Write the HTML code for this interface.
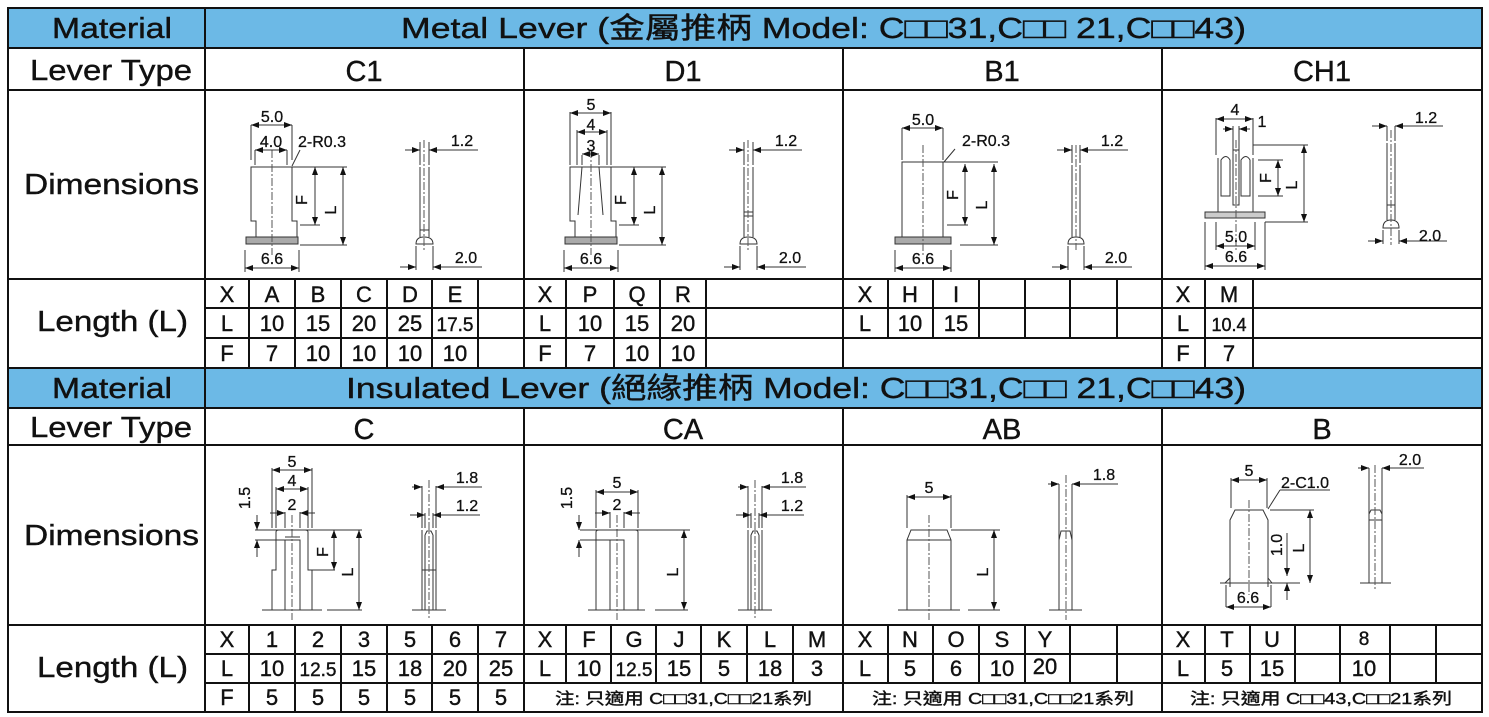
<!DOCTYPE html>
<html><head><meta charset="utf-8"><style>
html,body{margin:0;padding:0;background:#fff;}
svg{display:block;}
text{font-family:"Liberation Sans","Noto Sans CJK TC",sans-serif;fill:#111;stroke:#111;stroke-width:0.4;}
.h{font-size:29px;}
.c{font-size:22px;text-anchor:middle;}
.t{font-size:16px;text-anchor:middle;stroke-width:0.3;}
.n{font-size:16px;stroke-width:0.2;}
.g{stroke:#111;stroke-width:2;fill:none;}
.d{stroke:#333;stroke-width:1;fill:none;}
.cl{stroke:#555;stroke-width:1;stroke-dasharray:8,2,2,2;fill:none;}
</style></head><body>
<svg width="1489" height="717" viewBox="0 0 1489 717" xmlns="http://www.w3.org/2000/svg">
<defs>
<marker id="a" markerWidth="8" markerHeight="6" refX="8" refY="3" orient="auto"><path d="M0,0L8,3L0,6z" fill="#111"/></marker>
<marker id="b" markerWidth="8" markerHeight="6" refX="0" refY="3" orient="auto"><path d="M8,0L0,3L8,6z" fill="#111"/></marker>
</defs>
<rect x="0" y="0" width="1489" height="717" fill="#fff"/>
<rect x="8" y="8" width="1474" height="40" fill="#6cb9e6"/>
<rect x="8" y="368" width="1474" height="40" fill="#6cb9e6"/>
<rect x="8" y="8" width="1474" height="704" class="g"/>
<g class="g">
<line x1="8" y1="48" x2="1482" y2="48"/><line x1="8" y1="90" x2="1482" y2="90"/>
<line x1="8" y1="279" x2="1482" y2="279"/><line x1="8" y1="368" x2="1482" y2="368"/>
<line x1="8" y1="408" x2="1482" y2="408"/><line x1="8" y1="445" x2="1482" y2="445"/>
<line x1="8" y1="625" x2="1482" y2="625"/>
<line x1="205" y1="308" x2="1482" y2="308"/><line x1="205" y1="338" x2="1482" y2="338"/>
<line x1="205" y1="654" x2="1482" y2="654"/><line x1="205" y1="683" x2="1482" y2="683"/>
<line x1="205" y1="8" x2="205" y2="712"/>
<line x1="524" y1="48" x2="524" y2="368"/><line x1="843" y1="48" x2="843" y2="368"/><line x1="1162" y1="48" x2="1162" y2="368"/>
<line x1="524" y1="408" x2="524" y2="712"/><line x1="843" y1="408" x2="843" y2="712"/><line x1="1162" y1="408" x2="1162" y2="712"/>
</g>
<g class="g" stroke-width="1.5">
<path d="M249 279V368M295 279V368M341 279V368M387 279V368M432 279V368M478 279V368"/>
<path d="M566 279V368M614 279V368M660 279V368M706 279V368"/>
<path d="M888 279V338M933 279V338M979 279V338M1025 279V338M1070 279V338M1117 279V338"/>
<path d="M1205 279V368M1253 279V368"/>
<path d="M249 625V712M295 625V712M341 625V712M387 625V712M432 625V712M478 625V712"/>
<path d="M566 625V683M611 625V683M656 625V683M701 625V683M747 625V683M793 625V683"/>
<path d="M888 625V683M933 625V683M979 625V683M1025 625V683M1070 625V683M1117 625V683"/>
<path d="M1205 625V683M1250 625V683M1295 625V683M1340 625V683M1390 625V683M1436 625V683"/>
</g>
<text class="h" x="52" y="38" textLength="120" lengthAdjust="spacingAndGlyphs">Material</text>
<text class="h" x="401" y="38" textLength="845" lengthAdjust="spacingAndGlyphs">Metal Lever (金屬推柄 Model: C□□31,C□□ 21,C□□43)</text>
<text class="h" x="30" y="80" textLength="162" lengthAdjust="spacingAndGlyphs">Lever Type</text>
<text class="c" x="364" y="81" style="font-size:29px">C1</text>
<text class="c" x="683" y="81" style="font-size:29px">D1</text>
<text class="c" x="1002" y="81" style="font-size:29px">B1</text>
<text class="c" x="1322" y="81" style="font-size:29px">CH1</text>
<text class="h" x="24" y="194" textLength="175" lengthAdjust="spacingAndGlyphs">Dimensions</text>
<text class="h" x="37" y="331" textLength="151" lengthAdjust="spacingAndGlyphs">Length (L)</text>
<text class="h" x="52" y="398" textLength="120" lengthAdjust="spacingAndGlyphs">Material</text>
<text class="h" x="346" y="398" textLength="900" lengthAdjust="spacingAndGlyphs">Insulated Lever (絕緣推柄 Model: C□□31,C□□ 21,C□□43)</text>
<text class="h" x="30" y="437" textLength="162" lengthAdjust="spacingAndGlyphs">Lever Type</text>
<text class="c" x="364" y="439" style="font-size:29px">C</text>
<text class="c" x="683" y="439" style="font-size:29px">CA</text>
<text class="c" x="1002" y="439" style="font-size:29px">AB</text>
<text class="c" x="1322" y="439" style="font-size:29px">B</text>
<text class="h" x="24" y="545" textLength="175" lengthAdjust="spacingAndGlyphs">Dimensions</text>
<text class="h" x="37" y="677" textLength="151" lengthAdjust="spacingAndGlyphs">Length (L)</text>
<g class="c">
<text x="227" y="302">X</text><text x="272" y="302">A</text><text x="318" y="302">B</text><text x="364" y="302">C</text><text x="410" y="302">D</text><text x="455" y="302">E</text>
<text x="227" y="331">L</text><text x="272" y="331">10</text><text x="318" y="331">15</text><text x="364" y="331">20</text><text x="410" y="331">25</text><text x="455" y="331" style="font-size:19px">17.5</text>
<text x="227" y="361">F</text><text x="272" y="361">7</text><text x="318" y="361">10</text><text x="364" y="361">10</text><text x="410" y="361">10</text><text x="455" y="361">10</text>
<text x="545" y="302">X</text><text x="590" y="302">P</text><text x="637" y="302">Q</text><text x="683" y="302">R</text>
<text x="545" y="331">L</text><text x="590" y="331">10</text><text x="637" y="331">15</text><text x="683" y="331">20</text>
<text x="545" y="361">F</text><text x="590" y="361">7</text><text x="637" y="361">10</text><text x="683" y="361">10</text>
<text x="865" y="302">X</text><text x="910" y="302">H</text><text x="956" y="302">I</text>
<text x="865" y="331">L</text><text x="910" y="331">10</text><text x="956" y="331">15</text>
<text x="1183" y="302">X</text><text x="1229" y="302">M</text>
<text x="1183" y="331">L</text><text x="1229" y="331" style="font-size:18px">10.4</text>
<text x="1183" y="361">F</text><text x="1229" y="361">7</text>
<text x="227" y="647">X</text><text x="272" y="647">1</text><text x="318" y="647">2</text><text x="364" y="647">3</text><text x="410" y="647">5</text><text x="455" y="647">6</text><text x="501" y="647">7</text>
<text x="227" y="676">L</text><text x="272" y="676">10</text><text x="318" y="676" style="font-size:19px">12.5</text><text x="364" y="676">15</text><text x="410" y="676">18</text><text x="455" y="676">20</text><text x="501" y="676">25</text>
<text x="227" y="705">F</text><text x="272" y="705">5</text><text x="318" y="705">5</text><text x="364" y="705">5</text><text x="410" y="705">5</text><text x="455" y="705">5</text><text x="501" y="705">5</text>
<text x="545" y="647">X</text><text x="589" y="647">F</text><text x="634" y="647">G</text><text x="679" y="647">J</text><text x="724" y="647">K</text><text x="770" y="647">L</text><text x="817" y="647">M</text>
<text x="545" y="676">L</text><text x="589" y="676">10</text><text x="634" y="676" style="font-size:19px">12.5</text><text x="679" y="676">15</text><text x="724" y="676">5</text><text x="770" y="676">18</text><text x="817" y="676">3</text>
<text x="865" y="647">X</text><text x="910" y="647">N</text><text x="956" y="647">O</text><text x="1002" y="647">S</text><text x="1045" y="647">Y</text>
<text x="865" y="676">L</text><text x="910" y="676">5</text><text x="956" y="676">6</text><text x="1002" y="676">10</text><text x="1045" y="674">20</text>
<text x="1183" y="647">X</text><text x="1227" y="647">T</text><text x="1272" y="647">U</text><text x="1364" y="645" style="font-size:19px">8</text>
<text x="1183" y="676">L</text><text x="1227" y="676">5</text><text x="1272" y="676">15</text><text x="1364" y="676">10</text>
</g>
<g class="n">
<text x="555" y="704" textLength="257" lengthAdjust="spacingAndGlyphs">注:  只適用 C□□31,C□□21系列</text>
<text x="872" y="704" textLength="262" lengthAdjust="spacingAndGlyphs">注:  只適用 C□□31,C□□21系列</text>
<text x="1190" y="704" textLength="262" lengthAdjust="spacingAndGlyphs">注:  只適用 C□□43,C□□21系列</text>
</g>

<g>
<path class="d" d="M256 244V221H251V167H292V221H297V244"/>
<rect x="246" y="237" width="52" height="7" fill="#aaa" stroke="#333"/>
<line class="cl" x1="272" y1="150" x2="272" y2="255"/>
<path class="d" d="M251 160V125M292 160V125M255 165V150M287 165V150M292 167H347M300 225H320M300 245H347M245 250V272M299 250V272"/>
<line class="d" x1="251" y1="125" x2="292" y2="125" marker-start="url(#b)" marker-end="url(#a)"/>
<line class="d" x1="255" y1="150" x2="287" y2="150" marker-start="url(#b)" marker-end="url(#a)"/>
<line class="d" x1="315" y1="167" x2="315" y2="225" marker-start="url(#b)" marker-end="url(#a)"/>
<line class="d" x1="343" y1="167" x2="343" y2="245" marker-start="url(#b)" marker-end="url(#a)"/>
<line class="d" x1="245" y1="268" x2="299" y2="268" marker-start="url(#b)" marker-end="url(#a)"/>
<text class="t" x="272" y="122">5.0</text><text class="t" x="271" y="147">4.0</text>
<text class="t" x="272" y="264">6.6</text>
<text class="t" x="307" y="200" transform="rotate(-90 307 200)">F</text>
<text class="t" x="336" y="210" transform="rotate(-90 336 210)">L</text>
<path class="d" d="M420 167V237M429 167V237M420 230H429M416 244Q416 237 424 237Q433 237 433 244Z"/>
<line class="cl" x1="424" y1="140" x2="424" y2="250"/>
<path class="d" d="M420 165V142M429 165V142M416 246V270M433 246V270M440 150H478M440 267H482"/>
<line class="d" x1="405" y1="150" x2="420" y2="150" marker-end="url(#a)"/>
<line class="d" x1="444" y1="150" x2="429" y2="150" marker-end="url(#a)"/>
<line class="d" x1="400" y1="267" x2="416" y2="267" marker-end="url(#a)"/>
<line class="d" x1="449" y1="267" x2="433" y2="267" marker-end="url(#a)"/>
<text class="t" x="462" y="146">1.2</text><text class="t" x="466" y="263">2.0</text>
</g>
<text class="t" x="322" y="147">2-R0.3</text>
<line class="d" x1="300" y1="150" x2="292" y2="166"/>
<g transform="translate(319,0)">
<path class="d" d="M256 244V221H251V167H292V221H297V244"/>
<path class="d" d="M263 167L259 215M280 167L284 215"/>
<rect x="246" y="237" width="52" height="7" fill="#aaa" stroke="#333"/>
<line class="cl" x1="272" y1="150" x2="272" y2="255"/>
<path class="d" d="M251 165V112M292 165V112M258 165V130M288 165V130M263 165V155M280 165V155M292 167H347M300 225H320M300 245H347M245 250V272M299 250V272"/>
<line class="d" x1="251" y1="113" x2="292" y2="113" marker-start="url(#b)" marker-end="url(#a)"/>
<line class="d" x1="258" y1="132" x2="288" y2="132" marker-start="url(#b)" marker-end="url(#a)"/>
<line class="d" x1="263" y1="154" x2="280" y2="154" marker-start="url(#b)" marker-end="url(#a)"/>
<line class="d" x1="315" y1="167" x2="315" y2="225" marker-start="url(#b)" marker-end="url(#a)"/>
<line class="d" x1="343" y1="167" x2="343" y2="245" marker-start="url(#b)" marker-end="url(#a)"/>
<line class="d" x1="245" y1="268" x2="299" y2="268" marker-start="url(#b)" marker-end="url(#a)"/>
<text class="t" x="272" y="110">5</text><text class="t" x="272" y="130">4</text><text class="t" x="272" y="151">3</text>
<text class="t" x="272" y="264">6.6</text>
<text class="t" x="307" y="200" transform="rotate(-90 307 200)">F</text>
<text class="t" x="336" y="210" transform="rotate(-90 336 210)">L</text>
<path class="d" d="M425 167V237M434 167V237M425 212H434M425 216H434M421 244Q421 237 429 237Q438 237 438 244Z"/>
<line class="cl" x1="429" y1="140" x2="429" y2="250"/>
<path class="d" d="M425 165V142M434 165V142M421 246V270M438 246V270M445 150H483M445 267H487"/>
<line class="d" x1="410" y1="150" x2="425" y2="150" marker-end="url(#a)"/>
<line class="d" x1="449" y1="150" x2="434" y2="150" marker-end="url(#a)"/>
<line class="d" x1="405" y1="267" x2="421" y2="267" marker-end="url(#a)"/>
<line class="d" x1="454" y1="267" x2="438" y2="267" marker-end="url(#a)"/>
<text class="t" x="467" y="146">1.2</text><text class="t" x="471" y="263">2.0</text>
</g>
<g>
<path class="d" d="M902 237V162H943V237"/>
<rect x="895" y="237" width="56" height="7" fill="#aaa" stroke="#333"/>
<line class="cl" x1="923" y1="145" x2="923" y2="255"/>
<path class="d" d="M902 160V128M943 160V128M943 162H998M947 225H968M960 245H998M895 250V272M951 250V272"/>
<line class="d" x1="902" y1="128" x2="943" y2="128" marker-start="url(#b)" marker-end="url(#a)"/>
<line class="d" x1="965" y1="164" x2="965" y2="225" marker-start="url(#b)" marker-end="url(#a)"/>
<line class="d" x1="994" y1="164" x2="994" y2="245" marker-start="url(#b)" marker-end="url(#a)"/>
<line class="d" x1="895" y1="268" x2="951" y2="268" marker-start="url(#b)" marker-end="url(#a)"/>
<text class="t" x="923" y="125">5.0</text><text class="t" x="986" y="146">2-R0.3</text>
<line class="d" x1="955" y1="149" x2="944" y2="162"/>
<text class="t" x="923" y="264">6.6</text>
<text class="t" x="958" y="195" transform="rotate(-90 958 195)">F</text>
<text class="t" x="987" y="205" transform="rotate(-90 987 205)">L</text>
<path class="d" d="M1072 165V237M1080 165V237M1068 244Q1068 237 1076 237Q1084 237 1084 244Z"/>
<line class="cl" x1="1076" y1="145" x2="1076" y2="250"/>
<path class="d" d="M1072 163V145M1080 163V145M1068 246V270M1084 246V270M1090 150H1128M1090 267H1132"/>
<line class="d" x1="1057" y1="150" x2="1072" y2="150" marker-end="url(#a)"/>
<line class="d" x1="1095" y1="150" x2="1080" y2="150" marker-end="url(#a)"/>
<line class="d" x1="1052" y1="267" x2="1068" y2="267" marker-end="url(#a)"/>
<line class="d" x1="1099" y1="267" x2="1084" y2="267" marker-end="url(#a)"/>
<text class="t" x="1112" y="146">1.2</text><text class="t" x="1116" y="263">2.0</text>
</g>
<g>
<path class="d" d="M1218 212V158M1253 212V158M1210 212H1260"/>
<path class="d" d="M1221 196V160Q1226 153 1230 160V196Z M1241 196V160Q1246 153 1250 160V196Z M1233 205V150H1239V205Z"/>
<rect x="1205" y="212" width="60" height="6" fill="#ccc" stroke="#333"/>
<line class="cl" x1="1236" y1="140" x2="1236" y2="250"/>
<path class="d" d="M1216 155V118M1253 155V118M1233 150V126M1239 150V126M1253 145H1308M1258 160H1283M1258 196H1283M1265 222H1308M1205 222V270M1265 222V270M1216 222V250M1255 222V250"/>
<line class="d" x1="1216" y1="119" x2="1253" y2="119" marker-start="url(#b)" marker-end="url(#a)"/>
<line class="d" x1="1223" y1="129" x2="1233" y2="129" marker-end="url(#a)"/>
<line class="d" x1="1250" y1="129" x2="1239" y2="129" marker-end="url(#a)"/>
<line class="d" x1="1278" y1="160" x2="1278" y2="196" marker-start="url(#b)" marker-end="url(#a)"/>
<line class="d" x1="1304" y1="145" x2="1304" y2="222" marker-start="url(#b)" marker-end="url(#a)"/>
<line class="d" x1="1216" y1="246" x2="1255" y2="246" marker-start="url(#b)" marker-end="url(#a)"/>
<line class="d" x1="1205" y1="266" x2="1265" y2="266" marker-start="url(#b)" marker-end="url(#a)"/>
<text class="t" x="1235" y="115">4</text><text class="t" x="1262" y="127">1</text>
<text class="t" x="1236" y="242">5.0</text><text class="t" x="1236" y="262">6.6</text>
<text class="t" x="1271" y="178" transform="rotate(-90 1271 178)">F</text>
<text class="t" x="1297" y="185" transform="rotate(-90 1297 185)">L</text>
<path class="d" d="M1387 143V220M1395 143V220M1387 205H1395M1383 228Q1383 220 1391 220Q1399 220 1399 228Z"/>
<line class="cl" x1="1391" y1="130" x2="1391" y2="245"/>
<path class="d" d="M1387 141V126M1395 141V126M1383 230V244M1399 230V244M1405 126H1443M1405 241H1447"/>
<line class="d" x1="1372" y1="126" x2="1387" y2="126" marker-end="url(#a)"/>
<line class="d" x1="1410" y1="126" x2="1395" y2="126" marker-end="url(#a)"/>
<line class="d" x1="1368" y1="241" x2="1383" y2="241" marker-end="url(#a)"/>
<line class="d" x1="1414" y1="241" x2="1399" y2="241" marker-end="url(#a)"/>
<text class="t" x="1426" y="123">1.2</text><text class="t" x="1430" y="241">2.0</text>
</g>

<g>
<path class="d" d="M272 610V570H276V532Q276 530 279 530H305Q308 530 308 532V570H312V610M285 610V540H300V610M285 537H300"/>
<path class="d" d="M262 610H322M327 610H362"/>
<line class="cl" x1="292" y1="515" x2="292" y2="620"/>
<path class="d" d="M272 528V468M312 528V468M276 528V487M308 528V487M285 528V512M300 528V512M255 530H362M310 570H335M255 540H285"/>
<line class="d" x1="272" y1="470" x2="312" y2="470" marker-start="url(#b)" marker-end="url(#a)"/>
<line class="d" x1="276" y1="489" x2="308" y2="489" marker-start="url(#b)" marker-end="url(#a)"/>
<line class="d" x1="270" y1="513" x2="285" y2="513" marker-end="url(#a)"/>
<line class="d" x1="315" y1="513" x2="300" y2="513" marker-end="url(#a)"/>
<line class="d" x1="257" y1="515" x2="257" y2="530" marker-end="url(#a)"/>
<line class="d" x1="257" y1="557" x2="257" y2="540" marker-end="url(#a)"/>
<line class="d" x1="334" y1="530" x2="334" y2="570" marker-start="url(#b)" marker-end="url(#a)"/>
<line class="d" x1="359" y1="530" x2="359" y2="610" marker-start="url(#b)" marker-end="url(#a)"/>
<text class="t" x="292" y="467">5</text><text class="t" x="292" y="486">4</text><text class="t" x="292" y="510">2</text>
<text class="t" x="250" y="498" transform="rotate(-90 250 498)">1.5</text>
<text class="t" x="328" y="552" transform="rotate(-90 328 552)">F</text>
<text class="t" x="353" y="572" transform="rotate(-90 353 572)">L</text>
<path class="d" d="M422 530V610M436 530V610M425 535V610M433 535V610M425 535L427 531H431L433 535M422 570H436M412 610H446"/>
<line class="cl" x1="429" y1="480" x2="429" y2="620"/>
<path class="d" d="M422 528V486M436 528V486M425 528V513M433 528V513M436 487H482M433 515H480"/>
<line class="d" x1="412" y1="487" x2="422" y2="487" marker-end="url(#a)"/>
<line class="d" x1="446" y1="487" x2="436" y2="487" marker-end="url(#a)"/>
<line class="d" x1="410" y1="515" x2="425" y2="515" marker-end="url(#a)"/>
<line class="d" x1="448" y1="515" x2="433" y2="515" marker-end="url(#a)"/>
<text class="t" x="467" y="483">1.8</text><text class="t" x="467" y="511">1.2</text>
</g>
<g>
<path class="d" d="M596 610V532Q596 530 599 530H635Q638 530 638 532V610M610 610V540H624V610M596 540H610"/>
<path class="d" d="M588 610H645M655 610H688"/>
<line class="cl" x1="617" y1="515" x2="617" y2="620"/>
<path class="d" d="M596 528V490M638 528V490M610 528V512M624 528V512M580 530H690M580 540H596"/>
<line class="d" x1="596" y1="492" x2="638" y2="492" marker-start="url(#b)" marker-end="url(#a)"/>
<line class="d" x1="595" y1="513" x2="610" y2="513" marker-end="url(#a)"/>
<line class="d" x1="640" y1="513" x2="624" y2="513" marker-end="url(#a)"/>
<line class="d" x1="579" y1="515" x2="579" y2="530" marker-end="url(#a)"/>
<line class="d" x1="579" y1="557" x2="579" y2="540" marker-end="url(#a)"/>
<line class="d" x1="684" y1="530" x2="684" y2="610" marker-start="url(#b)" marker-end="url(#a)"/>
<text class="t" x="617" y="488">5</text><text class="t" x="617" y="510">2</text>
<text class="t" x="572" y="498" transform="rotate(-90 572 498)">1.5</text>
<text class="t" x="678" y="572" transform="rotate(-90 678 572)">L</text>
<path class="d" d="M748 530V610M762 530V610M751 535V610M759 535V610M751 535L753 531H757L759 535M738 610H772"/>
<line class="cl" x1="755" y1="480" x2="755" y2="620"/>
<path class="d" d="M748 528V486M762 528V486M751 528V513M759 528V513M762 487H806M759 515H804"/>
<line class="d" x1="738" y1="487" x2="748" y2="487" marker-end="url(#a)"/>
<line class="d" x1="772" y1="487" x2="762" y2="487" marker-end="url(#a)"/>
<line class="d" x1="736" y1="515" x2="751" y2="515" marker-end="url(#a)"/>
<line class="d" x1="774" y1="515" x2="759" y2="515" marker-end="url(#a)"/>
<text class="t" x="792" y="483">1.8</text><text class="t" x="792" y="511">1.2</text>
</g>
<g>
<path class="d" d="M907 610V540L911 530H947L951 540V610M907 540H951"/>
<path class="d" d="M898 610H960M968 610H1000"/>
<line class="cl" x1="929" y1="515" x2="929" y2="620"/>
<path class="d" d="M907 528V495M951 528V495M951 530H1000"/>
<line class="d" x1="907" y1="497" x2="951" y2="497" marker-start="url(#b)" marker-end="url(#a)"/>
<line class="d" x1="994" y1="530" x2="994" y2="610" marker-start="url(#b)" marker-end="url(#a)"/>
<text class="t" x="929" y="493">5</text>
<text class="t" x="988" y="572" transform="rotate(-90 988 572)">L</text>
<path class="d" d="M1059 484V610M1072 484V610M1059 540L1061 531H1070L1072 540M1049 610H1082"/>
<line class="cl" x1="1066" y1="475" x2="1066" y2="620"/>
<line class="d" x1="1072" y1="484" x2="1118" y2="484"/>
<line class="d" x1="1048" y1="484" x2="1059" y2="484" marker-end="url(#a)"/>
<line class="d" x1="1083" y1="484" x2="1072" y2="484" marker-end="url(#a)"/>
<text class="t" x="1104" y="480">1.8</text>
</g>
<g>
<path class="d" d="M1230 587V520L1235 510H1263L1268 520V587"/>
<path class="d" d="M1225 583L1230 578M1272 583L1268 578"/>
<path class="d" d="M1220 583H1278M1278 583H1300M1270 510H1314"/>
<line class="cl" x1="1249" y1="500" x2="1249" y2="595"/>
<path class="d" d="M1231 508V478M1267 508V478M1226 585V607M1271 585V607M1330 490H1280M1280 490L1268 509"/>
<line class="d" x1="1231" y1="480" x2="1267" y2="480" marker-start="url(#b)" marker-end="url(#a)"/>
<line class="d" x1="1226" y1="607" x2="1271" y2="607" marker-start="url(#b)" marker-end="url(#a)"/>
<line class="d" x1="1310" y1="510" x2="1310" y2="583" marker-start="url(#b)" marker-end="url(#a)"/>
<line class="d" x1="1287" y1="533" x2="1287" y2="576" marker-end="url(#a)"/>
<line class="d" x1="1287" y1="600" x2="1287" y2="583" marker-end="url(#a)"/>
<text class="t" x="1249" y="476">5</text><text class="t" x="1305" y="488">2-C1.0</text>
<text class="t" x="1248" y="603">6.6</text>
<text class="t" x="1282" y="545" transform="rotate(-90 1282 545)">1.0</text>
<text class="t" x="1304" y="548" transform="rotate(-90 1304 548)">L</text>
<path class="d" d="M1369 468V583M1382 468V583M1369 520V514L1371 510H1380L1382 514V520M1369 520H1382M1360 583H1391"/>
<line class="cl" x1="1375" y1="465" x2="1375" y2="590"/>
<line class="d" x1="1382" y1="468" x2="1424" y2="468"/>
<line class="d" x1="1358" y1="468" x2="1369" y2="468" marker-end="url(#a)"/>
<line class="d" x1="1393" y1="468" x2="1382" y2="468" marker-end="url(#a)"/>
<text class="t" x="1410" y="465">2.0</text>
</g>
</svg>
</body></html>
